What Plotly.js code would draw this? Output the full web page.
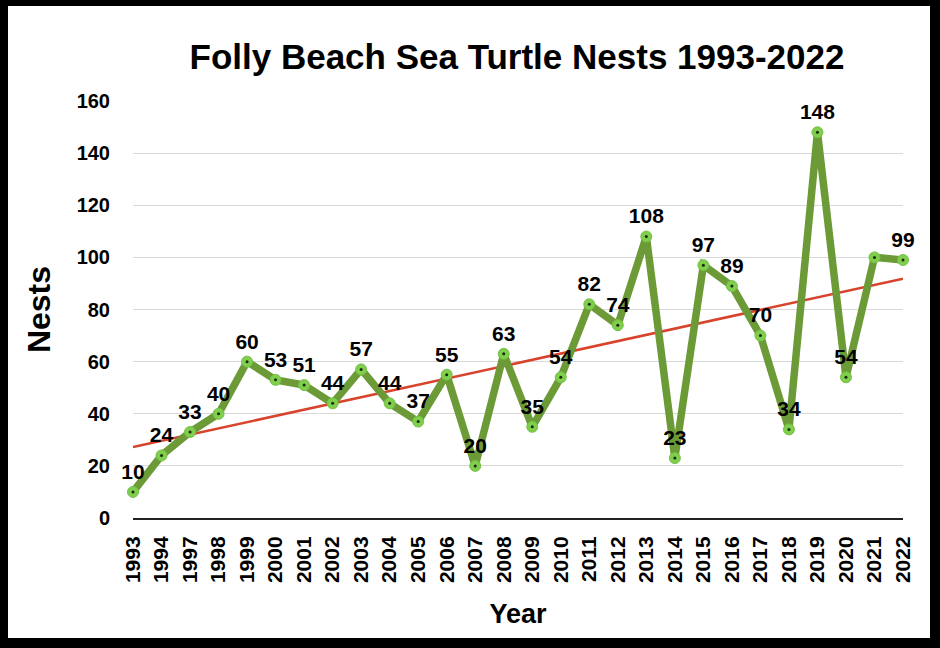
<!DOCTYPE html>
<html>
<head>
<meta charset="utf-8">
<script src="https://cdn.plot.ly/plotly-3.0.1.min.js"></script>
<style>
  html, body { margin: 0; padding: 0; background: #fff; }
  #wrap { position: relative; width: 940px; height: 648px; }
  #chart { position: absolute; left: 0; top: 0; width: 940px; height: 648px; }
  #frame { position: absolute; left: 0; top: 0; width: 940px; height: 648px; box-sizing: border-box;
           border-left: 8px solid #000; border-top: 6px solid #000; border-right: 10px solid #000; border-bottom: 10px solid #000;
           pointer-events: none; }
</style>
</head>
<body>
<div id="wrap">
  <div id="chart"></div>
  <div id="frame"></div>
</div>
<script>
const years = ["1993","1994","1997","1998","1999","2000","2001","2002","2003","2004","2005","2006","2007","2008","2009","2010","2011","2012","2013","2014","2015","2016","2017","2018","2019","2020","2021","2022"];
const nests = [10,24,33,40,60,53,51,44,57,44,37,55,20,63,35,54,82,74,108,23,97,89,70,34,148,54,100,99];
const nestLabels = ["10","24","33","40","60","53","51","44","57","44","37","55","20","63","35","54","82","74","108","23","97","89","70","34","148","54","","99"];
const trendYears = ["1993","2022"];
const trendValues = [27.2, 91.8];
const yTicks = [0,20,40,60,80,100,120,140,160];

const FONT = "Liberation Sans, Arial, Helvetica, sans-serif";

const traces = [
  {
    x: trendYears, y: trendValues, type: "scatter", mode: "lines",
    line: { color: "#d8432c", width: 2.5 },
    hoverinfo: "skip", showlegend: false
  },
  {
    x: years, y: nests, type: "scatter", mode: "lines+markers+text",
    line: { color: "#6b9a37", width: 7.5 },
    marker: { size: 11, color: "#7fcf4d", line: { color: "#76c046", width: 1 } },
    text: nestLabels, textposition: "top center",
    textfont: { family: FONT, size: 21, color: "#000", weight: 700 },
    cliponaxis: false, hoverinfo: "x+y", showlegend: false
  },
  {
    x: years, y: nests, type: "scatter", mode: "markers",
    marker: { size: 3, color: "#1a2a10" },
    hoverinfo: "skip", showlegend: false, cliponaxis: false
  }
];

const layout = {
  width: 940, height: 648,
  paper_bgcolor: "#fff", plot_bgcolor: "#fff",
  margin: { l: 133, r: 37, t: 101, b: 130 },
  font: { family: FONT, color: "#000" },
  title: {
    text: "<b>Folly Beach Sea Turtle Nests 1993-2022</b>",
    font: { family: FONT, size: 35, color: "#000" },
    x: 517/940, xanchor: "center", xref: "container",
    y: 1 - 57/648, yanchor: "middle", yref: "container"
  },
  xaxis: {
    type: "category", categoryorder: "array", categoryarray: years,
    range: [0, years.length - 1],
    tickangle: -90,
    tickfont: { family: FONT, size: 21, color: "#000", weight: 700 },
    showgrid: false, zeroline: false,
    showline: true, linecolor: "#222", linewidth: 2,
    ticks: "", ticklabelstandoff: 8,
    title: { text: "<b>Year</b>", font: { family: FONT, size: 27, color: "#000" }, standoff: 22 },
    automargin: false, fixedrange: true
  },
  yaxis: {
    range: [0, 160], tickvals: yTicks,
    tickfont: { family: FONT, size: 20, color: "#000", weight: 700 },
    showgrid: true, gridcolor: "#d9d9d9", gridwidth: 1,
    zeroline: false, showline: false, ticks: "", ticklabelstandoff: 22,
    title: { text: "<b>Nests</b>", font: { family: FONT, size: 32, color: "#000" }, standoff: 16 },
    automargin: false, fixedrange: true
  }
};

Plotly.newPlot("chart", traces, layout, { displayModeBar: false, staticPlot: true });
</script>
</body>
</html>
